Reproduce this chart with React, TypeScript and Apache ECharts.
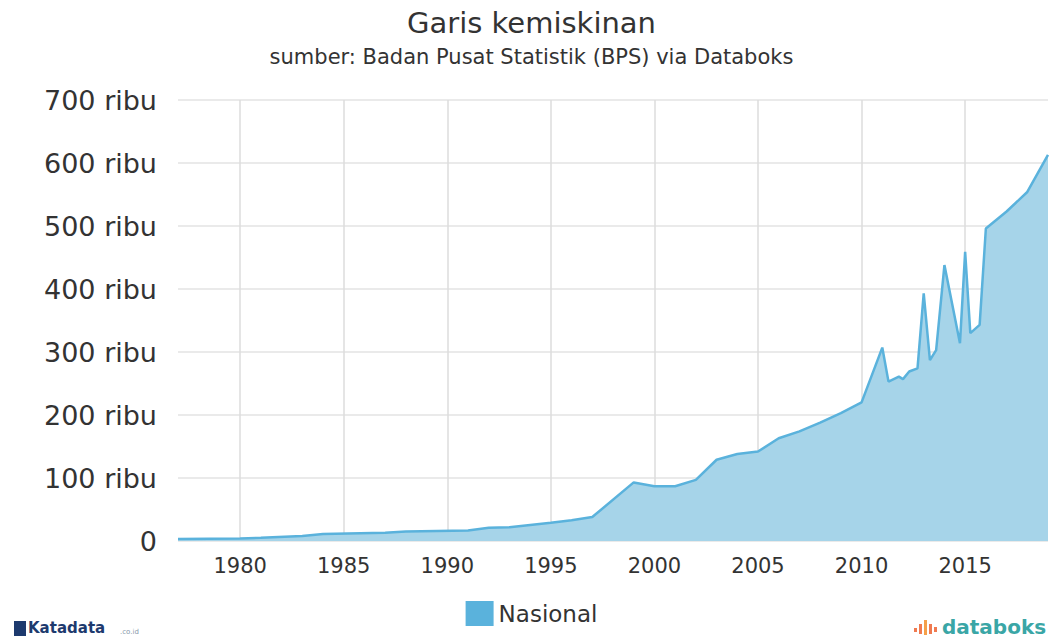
import React, { useEffect, useRef } from "react";
import * as echarts from "echarts";

const years = [1977, 1980, 1981, 1983, 1984, 1987, 1988, 1991, 1992, 1993, 1995, 1996, 1997, 1999, 2000, 2001, 2002, 2003, 2004, 2005, 2006, 2007, 2008, 2009, 2010, 2011, 2011.3, 2011.8, 2012, 2012.3, 2012.7, 2013, 2013.3, 2013.6, 2014, 2014.75, 2015, 2015.25, 2015.7, 2016, 2017, 2018, 2019];
const nasional = [3, 4, 5, 8, 11, 13, 15, 16.5, 21, 22, 29, 33, 38, 93, 87, 87, 97, 129, 138, 142, 163, 174, 188, 203, 220, 307, 253, 261, 257, 269, 274, 393, 287, 303, 438, 314, 459, 330, 343, 496, 523, 554, 613];
const xTicks = [1980, 1985, 1990, 1995, 2000, 2005, 2010, 2015];
const seriesName = "Nasional";
const titleText = "Garis kemiskinan";
const subtitleText = "sumber: Badan Pusat Statistik (BPS) via Databoks";

export default function App() {
  const ref = useRef<HTMLDivElement>(null);
  useEffect(() => {
    document.body.style.margin = "0";
    const chart = echarts.init(ref.current!, null, { renderer: "svg" });
    const font = "DejaVu Sans";
    chart.setOption({
      animation: false,
      backgroundColor: "#ffffff",
      title: {
        text: titleText,
        subtext: subtitleText,
        left: "center",
        top: 3,
        itemGap: 9,
        textStyle: { fontFamily: font, fontSize: 29, fontWeight: "normal", color: "#333" },
        subtextStyle: { fontFamily: font, fontSize: 21, color: "#333" },
      },
      legend: {
        bottom: 10,
        left: "center",
        itemWidth: 28,
        itemHeight: 25,
        icon: "rect",
        textStyle: { fontFamily: font, fontSize: 23, color: "#333" },
        data: [{ name: seriesName, itemStyle: { color: "#5ab2dc" } }],
      },
      grid: { left: 178, right: 15, top: 100, bottom: 100 },
      xAxis: {
        type: "value",
        min: years[0],
        max: years[years.length - 1],
        axisLine: { show: false },
        axisTick: { show: false, customValues: xTicks },
        axisLabel: {
          customValues: xTicks,
          fontFamily: font,
          fontSize: 21,
          color: "#333",
          margin: 14,
          formatter: (v: number) => String(v),
        },
        splitLine: { show: true, lineStyle: { color: "#dcdcdc", width: 1.5 } },
      },
      yAxis: {
        type: "value",
        min: 0,
        max: 700,
        interval: 100,
        axisLine: { show: false },
        axisTick: { show: false },
        axisLabel: {
          fontFamily: font,
          fontSize: 27,
          color: "#333",
          margin: 21,
          formatter: (v: number) => (v === 0 ? "0" : v + " ribu"),
        },
        splitLine: { show: true, lineStyle: { color: "#e3e3e3", width: 1.5 } },
      },
      series: [
        {
          name: seriesName,
          type: "line",
          data: years.map((y, i) => [y, nasional[i]]),
          symbol: "none",
          lineStyle: { color: "#5ab2dc", width: 2.5 },
          itemStyle: { color: "#5ab2dc" },
          areaStyle: { color: "#a6d4e9", opacity: 1 },
        },
      ],
      graphic: [
        { type: "rect", left: 14, top: 621, shape: { width: 12, height: 15 }, style: { fill: "#1d3a6e" } },
        { type: "text", left: 28, top: 620, style: { text: "Katadata", font: "bold 15px 'DejaVu Sans'", fill: "#1d3a6e" } },
        { type: "text", left: 120, top: 628, style: { text: ".co.id", font: "7px 'DejaVu Sans'", fill: "#8899aa" } },
        { type: "rect", left: 914, top: 628, shape: { width: 3, height: 4 }, style: { fill: "#f07a50" } },
        { type: "rect", left: 919, top: 624, shape: { width: 3, height: 10 }, style: { fill: "#f07a50" } },
        { type: "rect", left: 924, top: 620, shape: { width: 3, height: 15 }, style: { fill: "#f5a04a" } },
        { type: "rect", left: 929, top: 624, shape: { width: 3, height: 10 }, style: { fill: "#f07a50" } },
        { type: "rect", left: 934, top: 627, shape: { width: 3, height: 5 }, style: { fill: "#f07a50" } },
        { type: "text", left: 942, top: 617, style: { text: "databoks", font: "bold 20px 'DejaVu Sans'", fill: "#3aa6a6" } },
      ],
    });
    return () => chart.dispose();
  }, []);
  return <div ref={ref} style={{ width: 1063, height: 641 }} />;
}
